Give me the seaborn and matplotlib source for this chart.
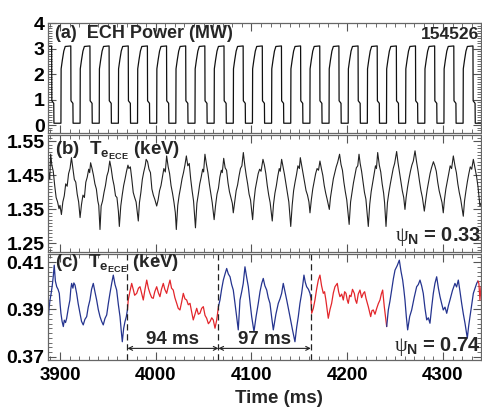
import numpy as np
import pandas as pd
import matplotlib
matplotlib.use("Agg")
import matplotlib.pyplot as plt
from matplotlib.ticker import AutoMinorLocator, FixedLocator, FormatStrFormatter
import seaborn as sns

# %% data
# ECH modulation: rise times (ms) of each 20 ms cycle and the shape of one cycle
ech_rise = [3881, 3901, 3921, 3941, 3961, 3981, 4001, 4021, 4041, 4061, 4081,
            4101, 4121, 4141, 4161, 4181, 4201, 4221, 4241, 4261, 4281, 4301, 4321]
ech_shape_dt = [0.0, 0.2, 1.5, 3.0, 4.5, 9.5, 10.3, 10.5, 12.5, 12.7, 19.99]
ech_shape_pw = [0.07, 2.2, 2.55, 2.9, 3.08, 3.1, 3.1, 0.95, 0.85, 0.07, 0.07]

# Te ECE at psi_N = 0.33 (keV)
te_b_time = [
    3887.5, 3888.5, 3889.3, 3890.3, 3891.5, 3893.0, 3894.5, 3896.0, 3897.5, 3899.0, 3900.0,
    3901.5, 3903.0, 3904.5, 3906.0, 3907.5, 3909.0, 3910.5, 3912.0, 3913.5, 3915.0, 3916.5,
    3918.0, 3919.5, 3921.0, 3922.5, 3924.0, 3925.5, 3927.0, 3928.5, 3930.0, 3931.0, 3932.0,
    3933.5, 3935.0, 3936.5, 3938.0, 3939.5, 3940.5, 3941.8, 3943.0, 3944.5, 3946.0, 3947.5,
    3949.0, 3950.5, 3952.0, 3953.5, 3955.0, 3956.5, 3958.0, 3959.5, 3961.0, 3962.0, 3963.5,
    3965.0, 3966.5, 3968.0, 3969.5, 3971.0, 3972.0, 3973.5, 3975.0, 3976.5, 3978.0, 3979.5,
    3981.8, 3983.0, 3984.5, 3986.0, 3987.5, 3989.0, 3990.0, 3991.5, 3993.0, 3994.5, 3996.0,
    3997.5, 3999.0, 4001.0, 4002.5, 4004.0, 4005.5, 4007.0, 4008.5, 4010.0, 4011.4, 4013.0,
    4014.5, 4016.0, 4017.5, 4019.0, 4020.5, 4021.5, 4023.0, 4024.5, 4026.0, 4027.5, 4029.0,
    4030.5, 4032.0, 4033.5, 4035.0, 4036.5, 4038.0, 4039.5, 4041.5, 4043.0, 4044.5, 4046.0,
    4047.5, 4049.0, 4050.0, 4051.4, 4053.0, 4054.5, 4056.0, 4057.5, 4059.0, 4061.0, 4062.5,
    4064.0, 4065.5, 4067.0, 4068.5, 4069.5, 4071.0, 4072.5, 4074.0, 4075.5, 4077.0, 4078.5,
    4080.0, 4081.0, 4082.5, 4084.0, 4085.5, 4087.0, 4088.5, 4090.0, 4091.5, 4093.0, 4094.5,
    4096.0, 4097.5, 4099.0, 4101.2, 4102.5, 4104.0, 4105.5, 4107.0, 4108.5, 4110.0, 4112.0,
    4113.5, 4115.0, 4116.5, 4118.0, 4119.5, 4121.7, 4123.0, 4124.5, 4126.0, 4127.5, 4129.0,
    4130.0, 4131.5, 4133.0, 4134.5, 4136.0, 4137.5, 4139.0, 4141.0, 4142.5, 4144.0, 4145.5,
    4147.0, 4148.5, 4150.0, 4151.0, 4152.5, 4154.0, 4155.5, 4157.0, 4158.5, 4160.0, 4161.1,
    4162.5, 4164.0, 4165.5, 4167.0, 4168.5, 4170.0, 4171.5, 4173.0, 4174.5, 4176.0, 4177.5,
    4179.0, 4181.3, 4182.5, 4184.0, 4185.5, 4187.0, 4188.5, 4190.0, 4192.0, 4193.5, 4195.0,
    4196.5, 4198.0, 4199.5, 4202.0, 4203.5, 4205.0, 4206.5, 4208.0, 4209.5, 4211.0, 4212.3,
    4213.5, 4215.0, 4216.5, 4218.0, 4219.5, 4222.0, 4223.5, 4225.0, 4226.5, 4228.0, 4229.5,
    4230.5, 4231.8, 4233.5, 4235.0, 4236.5, 4238.0, 4239.0, 4240.5, 4242.0, 4243.5, 4245.0,
    4246.5, 4248.0, 4249.5, 4251.6, 4253.0, 4254.5, 4256.0, 4257.5, 4259.0, 4260.3, 4261.5,
    4263.0, 4264.5, 4266.0, 4267.5, 4269.0, 4270.8, 4272.5, 4274.0, 4275.5, 4277.0, 4278.5,
    4280.5, 4282.0, 4283.5, 4285.0, 4286.5, 4288.0, 4290.0, 4291.5, 4293.0, 4294.5, 4296.0,
    4297.5, 4299.0, 4300.3, 4301.5, 4303.0, 4304.5, 4306.0, 4307.5, 4309.0, 4310.8, 4312.5,
    4314.0, 4315.5, 4317.0, 4318.5, 4321.2, 4322.5, 4324.0, 4325.5, 4327.0, 4328.5, 4330.0,
    4331.7, 4333.5, 4335.0, 4336.5, 4338.6, 4340.5]
te_b_val = [
    1.410, 1.455, 1.440, 1.512, 1.480, 1.462, 1.420, 1.385, 1.372, 1.352, 1.362,
    1.335, 1.372, 1.390, 1.425, 1.418, 1.455, 1.470, 1.502, 1.470, 1.438, 1.430,
    1.395, 1.372, 1.326, 1.365, 1.392, 1.385, 1.430, 1.445, 1.468, 1.458, 1.487,
    1.470, 1.450, 1.425, 1.410, 1.375, 1.362, 1.291, 1.360, 1.375, 1.400, 1.420,
    1.448, 1.462, 1.492, 1.470, 1.440, 1.420, 1.390, 1.385, 1.345, 1.300, 1.360,
    1.392, 1.420, 1.440, 1.462, 1.480, 1.470, 1.475, 1.440, 1.400, 1.385, 1.372,
    1.316, 1.370, 1.400, 1.438, 1.460, 1.478, 1.497, 1.490, 1.468, 1.458, 1.410,
    1.392, 1.380, 1.360, 1.378, 1.405, 1.420, 1.445, 1.470, 1.460, 1.507, 1.475,
    1.455, 1.420, 1.398, 1.372, 1.340, 1.291, 1.362, 1.392, 1.415, 1.440, 1.458,
    1.480, 1.507, 1.478, 1.485, 1.440, 1.405, 1.375, 1.296, 1.368, 1.395, 1.425,
    1.445, 1.468, 1.460, 1.512, 1.482, 1.458, 1.425, 1.398, 1.370, 1.320, 1.362,
    1.395, 1.412, 1.445, 1.465, 1.458, 1.500, 1.472, 1.465, 1.428, 1.402, 1.385,
    1.368, 1.340, 1.372, 1.405, 1.422, 1.448, 1.470, 1.478, 1.517, 1.480, 1.450,
    1.425, 1.395, 1.378, 1.320, 1.372, 1.410, 1.432, 1.455, 1.468, 1.462, 1.497,
    1.480, 1.455, 1.420, 1.392, 1.370, 1.316, 1.365, 1.398, 1.420, 1.448, 1.470,
    1.462, 1.497, 1.475, 1.452, 1.425, 1.400, 1.372, 1.300, 1.362, 1.405, 1.430,
    1.452, 1.478, 1.470, 1.502, 1.478, 1.455, 1.430, 1.405, 1.392, 1.372, 1.340,
    1.378, 1.410, 1.432, 1.455, 1.470, 1.465, 1.492, 1.470, 1.450, 1.420, 1.398,
    1.380, 1.350, 1.385, 1.412, 1.440, 1.458, 1.475, 1.488, 1.512, 1.482, 1.465,
    1.430, 1.402, 1.378, 1.306, 1.372, 1.400, 1.428, 1.450, 1.472, 1.478, 1.512,
    1.485, 1.462, 1.432, 1.400, 1.380, 1.300, 1.365, 1.402, 1.428, 1.452, 1.478,
    1.470, 1.517, 1.480, 1.460, 1.425, 1.398, 1.370, 1.300, 1.370, 1.400, 1.425,
    1.448, 1.470, 1.485, 1.520, 1.488, 1.460, 1.432, 1.405, 1.385, 1.350, 1.385,
    1.415, 1.440, 1.462, 1.480, 1.492, 1.522, 1.488, 1.462, 1.432, 1.405, 1.385,
    1.345, 1.378, 1.408, 1.432, 1.455, 1.472, 1.490, 1.478, 1.462, 1.430, 1.405,
    1.388, 1.370, 1.340, 1.378, 1.410, 1.432, 1.455, 1.478, 1.470, 1.507, 1.478,
    1.458, 1.425, 1.400, 1.380, 1.330, 1.375, 1.405, 1.432, 1.455, 1.475, 1.468,
    1.497, 1.470, 1.448, 1.418, 1.360, 1.372]

# Te ECE at psi_N = 0.74 (keV)
te_c_time = [
    3887.5, 3888.6, 3889.6, 3890.8, 3892.0, 3893.0, 3894.0, 3895.2, 3896.6, 3898.0, 3899.3,
    3900.2, 3901.0, 3902.2, 3903.5, 3904.5, 3905.8, 3907.0, 3908.7, 3910.4, 3911.3, 3912.2,
    3913.5, 3914.5, 3915.7, 3917.4, 3919.0, 3920.9, 3922.5, 3924.3, 3926.0, 3927.9, 3929.5,
    3931.3, 3933.0, 3934.8, 3936.5, 3938.3, 3940.0, 3941.8, 3943.5, 3945.2, 3947.0, 3948.8,
    3950.5, 3952.2, 3954.0, 3955.7, 3957.5, 3959.2, 3961.0, 3962.7, 3964.0, 3965.1, 3966.5,
    3967.9, 3969.3, 3970.5,
    3971.3, 3973.0, 3974.9, 3976.5, 3978.0, 3980.1, 3982.0, 3983.6, 3985.5, 3987.0, 3988.8,
    3990.6, 3992.3, 3994.0, 3995.8, 3997.4, 3999.0, 4001.0, 4002.8, 4004.4, 4006.0, 4007.9,
    4009.5, 4011.4, 4013.0, 4014.9, 4016.5, 4018.3, 4020.0, 4021.9, 4023.5, 4025.3, 4027.0,
    4028.8, 4030.5, 4032.3, 4034.0, 4035.8, 4037.5, 4039.2, 4041.0, 4042.8, 4044.5, 4046.2,
    4048.0, 4049.7, 4051.5, 4053.2, 4055.0, 4056.7, 4058.5, 4060.1, 4061.9, 4063.7, 4065.5,
    4067.1, 4068.8, 4070.6, 4072.4, 4074.1, 4075.8, 4077.6, 4079.3, 4081.0, 4082.8, 4084.5,
    4086.2, 4088.0, 4089.8, 4091.4, 4093.2, 4095.0, 4096.7, 4098.5, 4100.2, 4102.6, 4104.8,
    4107.1, 4108.9, 4110.7, 4112.3, 4114.0, 4115.9, 4117.5, 4119.3, 4121.0, 4122.8, 4125.5,
    4128.0, 4129.8, 4131.5, 4133.2, 4135.0, 4136.8, 4138.5, 4140.2, 4142.8, 4145.4, 4147.2,
    4148.9, 4150.6, 4152.4, 4153.6, 4154.8, 4156.2, 4157.6, 4159.5, 4161.1, 4162.0,
    4162.9, 4164.6, 4166.3, 4168.0, 4169.8, 4171.5, 4173.2, 4175.0, 4176.3, 4177.7, 4180.2,
    4182.0, 4183.7, 4185.5, 4187.2, 4189.6, 4191.0, 4192.4, 4194.2, 4195.9, 4197.3, 4198.7,
    4200.0, 4201.1, 4202.5, 4203.9, 4205.5, 4207.4, 4208.6, 4209.9, 4211.5, 4213.3, 4215.0,
    4216.8, 4218.2, 4219.6, 4222.0, 4224.5, 4225.8, 4227.2, 4229.0, 4230.8, 4232.5, 4234.2,
    4235.6, 4237.0, 4238.7, 4241.2,
    4242.9, 4244.6, 4246.4, 4248.2, 4249.9, 4252.2, 4254.4, 4256.2, 4257.9, 4259.1, 4260.3,
    4261.7, 4263.1, 4265.2, 4267.3, 4269.9, 4272.5, 4274.2, 4276.0, 4277.7, 4279.4, 4281.2,
    4283.0, 4284.7, 4286.4, 4288.2, 4289.9, 4291.6, 4293.4, 4295.2, 4296.9, 4298.6, 4300.3,
    4302.1, 4303.9, 4305.6, 4307.3, 4309.9, 4312.5, 4314.2, 4316.0, 4317.8, 4319.5, 4321.3,
    4323.0, 4325.4, 4326.8, 4328.2, 4330.0, 4331.7, 4333.5, 4335.2, 4336.5,
    4337.5, 4338.6, 4339.7, 4341.0]
te_c_val = [
    0.3842, 0.3905, 0.3940, 0.3968, 0.4003, 0.4040, 0.4087, 0.4020, 0.3996, 0.3985, 0.3968,
    0.3920, 0.3884, 0.3850, 0.3828, 0.3855, 0.3845, 0.3863, 0.3905, 0.3940, 0.3985, 0.4010,
    0.3990, 0.4012, 0.4003, 0.3968, 0.3925, 0.3884, 0.3850, 0.3835, 0.3858, 0.3870, 0.3910,
    0.3940, 0.3985, 0.4010, 0.3975, 0.3940, 0.3900, 0.3870, 0.3850, 0.3835, 0.3862, 0.3877,
    0.3925, 0.3968, 0.4010, 0.4045, 0.4005, 0.3982, 0.3920, 0.3870, 0.3810, 0.3764, 0.3820,
    0.3849, 0.3870, 0.3900,
    0.3940, 0.3975, 0.4010, 0.3985, 0.3960, 0.3968, 0.3990, 0.3996, 0.3965, 0.3940, 0.3985,
    0.4024, 0.3990, 0.3968, 0.3950, 0.3947, 0.3975, 0.3996, 0.3970, 0.3954, 0.3985, 0.4010,
    0.3985, 0.3968, 0.3995, 0.4024, 0.3990, 0.3982, 0.3950, 0.3926, 0.3905, 0.3898, 0.3930,
    0.3968, 0.3945, 0.3940, 0.3920, 0.3926, 0.3890, 0.3856, 0.3880, 0.3905, 0.3880, 0.3884,
    0.3905, 0.3912, 0.3875, 0.3863, 0.3840, 0.3849, 0.3865, 0.3856, 0.3821, 0.3856, 0.3912,
    0.3940, 0.3985, 0.4024, 0.4050, 0.4073, 0.4050, 0.4038, 0.4005, 0.3982, 0.3925, 0.3870,
    0.3814, 0.3940, 0.3975, 0.4010, 0.4080, 0.4035, 0.3996, 0.3930, 0.3870, 0.3807, 0.3870,
    0.3926, 0.3975, 0.4010, 0.4031, 0.4000, 0.3982, 0.3950, 0.3926, 0.3870, 0.3814, 0.3880,
    0.3926, 0.3945, 0.3968, 0.4010, 0.3975, 0.3940, 0.3905, 0.3870, 0.3815, 0.3764, 0.3825,
    0.3870, 0.3925, 0.3968, 0.4005, 0.4045, 0.4015, 0.3996, 0.3985, 0.3968, 0.3950,
    0.3884, 0.3905, 0.3940, 0.3985, 0.4024, 0.4045, 0.4000, 0.3968, 0.3975, 0.3940, 0.3863,
    0.3900, 0.3926, 0.3970, 0.3996, 0.4010, 0.3975, 0.3954, 0.3965, 0.3940, 0.3975, 0.3968,
    0.3940, 0.3926, 0.3960, 0.3954, 0.3985, 0.3968, 0.3940, 0.3926, 0.3965, 0.3982, 0.3950,
    0.3968, 0.3975, 0.3947, 0.3912, 0.3870, 0.3895, 0.3898, 0.3880, 0.3905, 0.3925, 0.3940,
    0.3965, 0.3982, 0.3912, 0.3828,
    0.3898, 0.3935, 0.3982, 0.4030, 0.4066, 0.4085, 0.4108, 0.4060, 0.4024, 0.3985, 0.3940,
    0.3870, 0.3814, 0.3870, 0.3898, 0.3950, 0.3996, 0.4005, 0.4024, 0.4000, 0.3968, 0.3905,
    0.3856, 0.3865, 0.3842, 0.3910, 0.3968, 0.4010, 0.4038, 0.3990, 0.3954, 0.3925, 0.3898,
    0.3910, 0.3884, 0.3915, 0.3940, 0.3980, 0.4010, 0.3995, 0.4024, 0.3975, 0.3926, 0.3880,
    0.3842, 0.3779, 0.3830, 0.3870, 0.3920, 0.3968, 0.3990, 0.4010, 0.4020,
    0.4010, 0.3940, 0.3996, 0.3985]

# colour changes of the psi_N = 0.74 trace (blue / red alternate)
c_switch = [3887.5, 3970.5, 4065.5, 4162.0, 4241.2, 4336.5, 4341.0]
c_colors = ["#25348f", "#e3262b", "#25348f", "#e3262b", "#25348f", "#e3262b"]

dash_times = [3970.5, 4065.5, 4162.0]
gap_labels = ["94 ms", "97 ms"]

# %% style
sns.set_theme(style="ticks")
plt.rcParams["font.family"] = ["Liberation Sans", "DejaVu Sans"]
plt.rcParams["mathtext.fontset"] = "custom"
plt.rcParams["mathtext.rm"] = "Liberation Serif"
plt.rcParams["mathtext.it"] = "Liberation Serif:italic"
plt.rcParams["mathtext.bf"] = "Liberation Sans:bold"

W, H = 482, 411
fig = plt.figure(figsize=(W / 100, H / 100), dpi=100)

def px_axes(top, bottom, left=48, right=481):
    return fig.add_axes([left / W, 1 - bottom / H, (right - left) / W, (bottom - top) / H])

ax_a = px_axes(23, 133.5)
ax_b = px_axes(135.5, 252)
ax_c = px_axes(254, 360)
xlim = (3887.5, 4339.7)

# ECH power waveform
ech_t = []
ech_p = []
for t0 in ech_rise:
    for dt, p in zip(ech_shape_dt, ech_shape_pw):
        ech_t.append(t0 + dt)
        ech_p.append(p)
ech = pd.DataFrame({"t": ech_t, "p": ech_p})
sns.lineplot(data=ech, x="t", y="p", ax=ax_a, color="#111111", lw=0.9,
             estimator=None, sort=False)

te_b = pd.DataFrame({"t": te_b_time, "te": te_b_val})
sns.lineplot(data=te_b, x="t", y="te", ax=ax_b, color="#222222", lw=0.8,
             estimator=None, sort=False)

te_c = pd.DataFrame({"t": te_c_time, "te": te_c_val})
for i, col in enumerate(c_colors):
    seg = te_c[(te_c.t >= c_switch[i]) & (te_c.t <= c_switch[i + 1])]
    sns.lineplot(data=seg, x="t", y="te", ax=ax_c, color=col, lw=0.9,
                 estimator=None, sort=False)

for ax in (ax_a, ax_b, ax_c):
    ax.set_xlim(*xlim)
    ax.set_xlabel("")
    ax.set_ylabel("")
    ax.xaxis.set_major_locator(FixedLocator([3900, 4000, 4100, 4200, 4300]))
    ax.xaxis.set_minor_locator(AutoMinorLocator(10))
    ax.yaxis.set_minor_locator(AutoMinorLocator(10))
    ax.tick_params(which="both", direction="in", top=True, right=True,
                   colors="#555555", labelcolor="black")
    ax.tick_params(which="major", length=6, width=0.8)
    ax.tick_params(which="minor", length=3, width=0.6)
    ax.tick_params(axis="y", labelsize=14, pad=2.5)
    ax.tick_params(axis="x", labelsize=13.5, pad=5)
    for s in ax.spines.values():
        s.set_color("#666666")
        s.set_linewidth(0.9)

ax_a.set_ylim(-0.333, 4.0)
ax_a.yaxis.set_major_locator(FixedLocator([0, 1, 2, 3, 4]))
ax_b.set_ylim(1.225, 1.567)
ax_b.yaxis.set_major_locator(FixedLocator([1.25, 1.35, 1.45, 1.55]))
ax_b.yaxis.set_major_formatter(FormatStrFormatter("%.2f"))
ax_c.set_ylim(0.3687, 0.4134)
ax_c.yaxis.set_major_locator(FixedLocator([0.37, 0.39, 0.41]))
ax_c.yaxis.set_major_formatter(FormatStrFormatter("%.2f"))
ax_a.tick_params(labelbottom=False)
ax_b.tick_params(labelbottom=False)
for ax in (ax_a, ax_b, ax_c):
    for lab in ax.get_xticklabels() + ax.get_yticklabels():
        lab.set_fontweight("bold")

# panel labels
ax_a.text(0.016, 0.905, "(a)  ECH Power (MW)", transform=ax_a.transAxes,
          fontsize=13, fontweight="bold", va="center", ha="left")
ax_a.text(0.995, 0.895, "154526", transform=ax_a.transAxes,
          family=["Liberation Sans Narrow", "Liberation Sans"],
          fontsize=12.5, fontweight="bold", va="center", ha="right")
ax_b.text(0.016, 0.865, r"(b)  $\mathbf{T_{e_{ECE}}}$ (keV)", transform=ax_b.transAxes,
          fontsize=13.5, fontweight="bold", va="center", ha="left")
ax_c.text(0.016, 0.905, r"(c)  $\mathbf{T_{e_{ECE}}}$ (keV)", transform=ax_c.transAxes,
          fontsize=13.5, fontweight="bold", va="center", ha="left")
ax_b.text(1.0, 0.137, r"$\mathrm{\psi}_{\mathbf{N}}\mathbf{\,=\,0.33}$", transform=ax_b.transAxes,
          fontsize=14.5, va="center", ha="right")
ax_c.text(1.0, 0.132, r"$\mathrm{\psi}_{\mathbf{N}}\mathbf{\,=\,0.74}$", transform=ax_c.transAxes,
          fontsize=14.5, va="center", ha="right")

# dashed markers and period arrows
for t in dash_times:
    ax_c.axvline(t, color="#222222", lw=0.9, ls=(0, (5, 3)))
for i, lab in enumerate(gap_labels):
    t1, t2 = dash_times[i], dash_times[i + 1]
    ax_c.annotate("", xy=(t2, 0.3736), xytext=(t1, 0.3736),
                  arrowprops=dict(arrowstyle="<->", lw=0.8, color="#222222",
                                  shrinkA=0, shrinkB=0, mutation_scale=7))
    ax_c.text((t1 + t2) / 2, 0.3772, lab, fontsize=13.5, fontweight="bold",
              ha="center", va="center")

fig.text(279 / W, 1 - 398 / H, "Time (ms)", fontsize=13.5, fontweight="bold",
         ha="center", va="center")

fig.savefig("out.png", dpi=100)
